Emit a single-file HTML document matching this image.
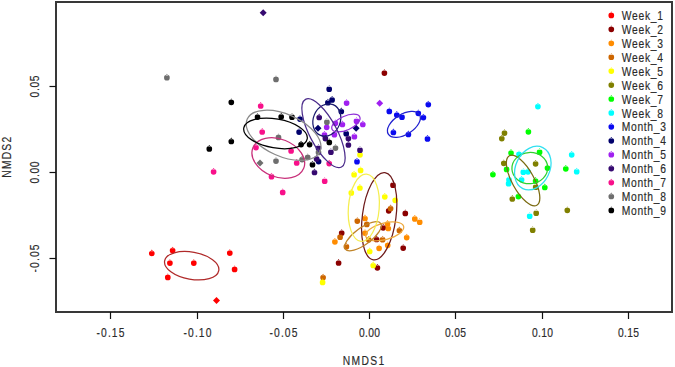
<!DOCTYPE html><html><head><meta charset="utf-8"><style>html,body{margin:0;padding:0;background:#fff;overflow:hidden;}svg{display:block;}text{font-family:"Liberation Sans",sans-serif;fill:#2a2a2a;stroke:#2a2a2a;stroke-width:0.15px;}</style></head><body>
<svg width="675" height="367" viewBox="0 0 675 367">
<rect width="675" height="367" fill="#fff"/>
<defs><path id="d" d="M-2.85,0a2.85,2.85 0 1,0 5.7,0a2.85,2.85 0 1,0 -5.7,0ZM-1.3,-2.3L0,-3.9L1.3,-2.3Z"/><path id="q" d="M0,-3.5L3.5,0L0,3.5L-3.5,0Z"/></defs>
<use href="#d" x="151.8" y="253.5" fill="#ff0000"/>
<use href="#d" x="172.6" y="250.6" fill="#ff0000"/>
<use href="#d" x="169.9" y="263.1" fill="#ff0000"/>
<use href="#d" x="193.8" y="263.1" fill="#ff0000"/>
<use href="#d" x="229.8" y="253.1" fill="#ff0000"/>
<use href="#d" x="234.6" y="269.4" fill="#ff0000"/>
<use href="#d" x="167.8" y="277.4" fill="#ff0000"/>
<use href="#q" x="216.5" y="300.5" fill="#ff0000"/>
<use href="#d" x="384.4" y="73.1" fill="#8b0000"/>
<use href="#d" x="393" y="185.2" fill="#8b0000"/>
<use href="#d" x="388.7" y="210.8" fill="#8b0000"/>
<use href="#d" x="405.3" y="213.4" fill="#8b0000"/>
<use href="#d" x="383.2" y="227.8" fill="#8b0000"/>
<use href="#d" x="341.7" y="233.1" fill="#8b0000"/>
<use href="#d" x="376.6" y="239.5" fill="#8b0000"/>
<use href="#d" x="338.6" y="263" fill="#8b0000"/>
<use href="#d" x="377.4" y="267.8" fill="#8b0000"/>
<use href="#d" x="403.2" y="248.1" fill="#8b0000"/>
<use href="#d" x="365.0" y="218.5" fill="#ff8c00"/>
<use href="#d" x="414.8" y="218.9" fill="#ff8c00"/>
<use href="#d" x="419.7" y="222.2" fill="#ff8c00"/>
<use href="#d" x="387.5" y="224.0" fill="#ff8c00"/>
<use href="#d" x="388.3" y="228.5" fill="#ff8c00"/>
<use href="#d" x="365.0" y="233.1" fill="#ff8c00"/>
<use href="#d" x="334.9" y="241.8" fill="#ff8c00"/>
<use href="#d" x="379.1" y="248.3" fill="#ff8c00"/>
<use href="#d" x="387.7" y="245.3" fill="#ff8c00"/>
<use href="#d" x="406.7" y="237.6" fill="#ff8c00"/>
<use href="#d" x="357.3" y="221.1" fill="#cd6600"/>
<use href="#d" x="366.8" y="224.4" fill="#cd6600"/>
<use href="#d" x="390.6" y="208.5" fill="#cd6600"/>
<use href="#d" x="399.4" y="230.5" fill="#cd6600"/>
<use href="#d" x="340.1" y="237.2" fill="#cd6600"/>
<use href="#d" x="346.4" y="246.7" fill="#cd6600"/>
<use href="#d" x="368.7" y="239.8" fill="#cd6600"/>
<use href="#d" x="382.6" y="239.7" fill="#cd6600"/>
<use href="#d" x="323.1" y="277.6" fill="#cd6600"/>
<use href="#d" x="360.6" y="170.4" fill="#ffff00"/>
<use href="#d" x="354.1" y="174.7" fill="#ffff00"/>
<use href="#d" x="359.9" y="188" fill="#ffff00"/>
<use href="#d" x="351.3" y="192.9" fill="#ffff00"/>
<use href="#d" x="384.8" y="196.8" fill="#ffff00"/>
<use href="#d" x="395.2" y="200.3" fill="#ffff00"/>
<use href="#d" x="369.7" y="251.5" fill="#ffff00"/>
<use href="#d" x="373.2" y="265.5" fill="#ffff00"/>
<use href="#d" x="322.6" y="282.4" fill="#ffff00"/>
<use href="#d" x="360" y="154.8" fill="#ffff00"/>
<use href="#d" x="504.5" y="133.1" fill="#808000"/>
<use href="#d" x="501.8" y="138.6" fill="#808000"/>
<use href="#d" x="503.8" y="163.3" fill="#808000"/>
<use href="#d" x="535.6" y="163.8" fill="#808000"/>
<use href="#d" x="535.7" y="187.2" fill="#808000"/>
<use href="#d" x="512.3" y="199" fill="#808000"/>
<use href="#d" x="536.2" y="213.2" fill="#808000"/>
<use href="#d" x="532.7" y="230.2" fill="#808000"/>
<use href="#d" x="567.3" y="210.3" fill="#808000"/>
<use href="#d" x="528.4" y="131.8" fill="#00ff00"/>
<use href="#d" x="511" y="153" fill="#00ff00"/>
<use href="#d" x="539.6" y="152.2" fill="#00ff00"/>
<use href="#d" x="506.6" y="169.4" fill="#00ff00"/>
<use href="#d" x="492.9" y="174.6" fill="#00ff00"/>
<use href="#d" x="547.5" y="168.1" fill="#00ff00"/>
<use href="#d" x="535.6" y="181" fill="#00ff00"/>
<use href="#d" x="544.8" y="187.5" fill="#00ff00"/>
<use href="#d" x="518.4" y="196.6" fill="#00ff00"/>
<use href="#d" x="565.8" y="168.8" fill="#00ff00"/>
<use href="#d" x="537.9" y="106.6" fill="#00ffff"/>
<use href="#d" x="519" y="154.3" fill="#00ffff"/>
<use href="#d" x="523.3" y="172.2" fill="#00ffff"/>
<use href="#d" x="528" y="171.8" fill="#00ffff"/>
<use href="#d" x="521.6" y="179.8" fill="#00ffff"/>
<use href="#d" x="509" y="179.8" fill="#00ffff"/>
<use href="#d" x="508.6" y="183.7" fill="#00ffff"/>
<use href="#d" x="529.7" y="216.2" fill="#00ffff"/>
<use href="#d" x="571.7" y="154.8" fill="#00ffff"/>
<use href="#d" x="576.7" y="171.7" fill="#00ffff"/>
<use href="#d" x="428.3" y="104.6" fill="#0a0af0"/>
<use href="#d" x="389.3" y="111.4" fill="#0a0af0"/>
<use href="#d" x="396.8" y="115" fill="#0a0af0"/>
<use href="#d" x="402" y="117.2" fill="#0a0af0"/>
<use href="#d" x="418.3" y="113.3" fill="#0a0af0"/>
<use href="#d" x="423.4" y="117.6" fill="#0a0af0"/>
<use href="#d" x="393.4" y="132.5" fill="#0a0af0"/>
<use href="#d" x="408.4" y="134.5" fill="#0a0af0"/>
<use href="#d" x="427.5" y="138.9" fill="#0a0af0"/>
<use href="#d" x="357" y="161.7" fill="#0a0af0"/>
<use href="#d" x="329.2" y="89.2" fill="#00006c"/>
<use href="#d" x="332.1" y="99.9" fill="#00006c"/>
<use href="#d" x="327.9" y="102.7" fill="#00006c"/>
<use href="#d" x="341.3" y="111.5" fill="#00006c"/>
<use href="#d" x="300" y="119.1" fill="#00006c"/>
<use href="#d" x="299.1" y="132.1" fill="#00006c"/>
<use href="#q" x="318" y="128.3" fill="#00006c"/>
<use href="#q" x="356.1" y="128.3" fill="#00006c"/>
<use href="#d" x="346.2" y="133.7" fill="#00006c"/>
<use href="#d" x="318.6" y="161.6" fill="#00006c"/>
<use href="#d" x="346.6" y="103.1" fill="#a020f0"/>
<use href="#q" x="379.7" y="103.3" fill="#a020f0"/>
<use href="#d" x="335.4" y="123.3" fill="#a020f0"/>
<use href="#d" x="342.4" y="124.5" fill="#a020f0"/>
<use href="#d" x="356.5" y="121.2" fill="#a020f0"/>
<use href="#d" x="362.8" y="124.5" fill="#a020f0"/>
<use href="#d" x="326.7" y="127.3" fill="#a020f0"/>
<use href="#d" x="324.5" y="134.9" fill="#a020f0"/>
<use href="#d" x="334.4" y="134.7" fill="#a020f0"/>
<use href="#d" x="354.4" y="136.7" fill="#a020f0"/>
<use href="#q" x="263.2" y="12.7" fill="#360a70"/>
<use href="#d" x="319.2" y="117.5" fill="#360a70"/>
<use href="#d" x="348.4" y="138.6" fill="#360a70"/>
<use href="#d" x="325.4" y="138.6" fill="#360a70"/>
<use href="#d" x="348.4" y="145" fill="#360a70"/>
<use href="#d" x="360" y="150.2" fill="#360a70"/>
<use href="#d" x="318.5" y="148.2" fill="#360a70"/>
<use href="#d" x="330.9" y="152.2" fill="#360a70"/>
<use href="#d" x="316.6" y="158.9" fill="#360a70"/>
<use href="#d" x="314.5" y="172.5" fill="#360a70"/>
<use href="#d" x="260.7" y="106" fill="#f8108a"/>
<use href="#d" x="262.2" y="132" fill="#f8108a"/>
<use href="#d" x="256" y="147.6" fill="#f8108a"/>
<use href="#d" x="213.6" y="171.8" fill="#f8108a"/>
<use href="#d" x="271.5" y="176.7" fill="#f8108a"/>
<use href="#d" x="282.7" y="192.4" fill="#f8108a"/>
<use href="#d" x="291.1" y="151" fill="#f8108a"/>
<use href="#d" x="296.7" y="163" fill="#f8108a"/>
<use href="#d" x="329.2" y="163.6" fill="#f8108a"/>
<use href="#d" x="324.7" y="181.2" fill="#f8108a"/>
<use href="#d" x="166.9" y="77.7" fill="#6e6e6e"/>
<use href="#d" x="276" y="79.4" fill="#6e6e6e"/>
<use href="#d" x="326.9" y="122.2" fill="#6e6e6e"/>
<use href="#d" x="278.5" y="137.4" fill="#6e6e6e"/>
<use href="#q" x="260" y="162.9" fill="#6e6e6e"/>
<use href="#d" x="276" y="161.1" fill="#6e6e6e"/>
<use href="#d" x="318.5" y="152.4" fill="#6e6e6e"/>
<use href="#d" x="307.7" y="157.3" fill="#6e6e6e"/>
<use href="#d" x="302.1" y="159.6" fill="#6e6e6e"/>
<use href="#d" x="335.5" y="148.1" fill="#6e6e6e"/>
<use href="#d" x="231.3" y="102.3" fill="#000000"/>
<use href="#d" x="257.5" y="117.1" fill="#000000"/>
<use href="#d" x="281.2" y="116.8" fill="#000000"/>
<use href="#d" x="292" y="117.2" fill="#000000"/>
<use href="#d" x="231.3" y="141.5" fill="#000000"/>
<use href="#d" x="209.3" y="148.9" fill="#000000"/>
<use href="#d" x="301.1" y="144.6" fill="#000000"/>
<use href="#d" x="309.6" y="144.6" fill="#000000"/>
<use href="#d" x="329.3" y="142.4" fill="#000000"/>
<use href="#d" x="312.5" y="164.7" fill="#000000"/>
<ellipse cx="191.7" cy="265.7" rx="27.5" ry="13.6" transform="rotate(10.2 191.7 265.7)" fill="none" stroke="#b02a2a" stroke-width="1.25"/>
<ellipse cx="379.2" cy="216.2" rx="16.8" ry="44" transform="rotate(7.5 379.2 216.2)" fill="none" stroke="#6e1a1a" stroke-width="1.25"/>
<ellipse cx="384.7" cy="231.3" rx="19.6" ry="8.3" transform="rotate(-14.9 384.7 231.3)" fill="none" stroke="#eeaa40" stroke-width="1.25"/>
<ellipse cx="363.0" cy="236.2" rx="21.9" ry="8.3" transform="rotate(-36 363.0 236.2)" fill="none" stroke="#c08428" stroke-width="1.25"/>
<ellipse cx="363.8" cy="207.8" rx="15.4" ry="33.7" transform="rotate(4.7 363.8 207.8)" fill="none" stroke="#f5ee50" stroke-width="1.25"/>
<ellipse cx="523.1" cy="180.5" rx="28.3" ry="10.9" transform="rotate(61 523.1 180.5)" fill="none" stroke="#7a6a10" stroke-width="1.25"/>
<ellipse cx="529.8" cy="168.1" rx="17.9" ry="15.6" transform="rotate(-3.5 529.8 168.1)" fill="none" stroke="#30d030" stroke-width="1.25"/>
<ellipse cx="532.8" cy="168.1" rx="22.8" ry="17.0" transform="rotate(-64 532.8 168.1)" fill="none" stroke="#30e0f0" stroke-width="1.25"/>
<ellipse cx="403.9" cy="124.4" rx="18.4" ry="10.1" transform="rotate(-32.2 403.9 124.4)" fill="none" stroke="#2020d0" stroke-width="1.25"/>
<ellipse cx="326.8" cy="120" rx="16.6" ry="13.5" transform="rotate(-67.7 326.8 120)" fill="none" stroke="#1a1a6e" stroke-width="1.25"/>
<ellipse cx="345.9" cy="123.1" rx="15.2" ry="7.0" transform="rotate(-24 345.9 123.1)" fill="none" stroke="#9030d8" stroke-width="1.25"/>
<ellipse cx="323.5" cy="133.2" rx="38.3" ry="13.6" transform="rotate(62 323.5 133.2)" fill="none" stroke="#4a2a8a" stroke-width="1.25"/>
<ellipse cx="278.3" cy="158" rx="27.4" ry="18.9" transform="rotate(22 278.3 158)" fill="none" stroke="#c8307a" stroke-width="1.25"/>
<ellipse cx="283.6" cy="135.3" rx="39.8" ry="21" transform="rotate(24 283.6 135.3)" fill="none" stroke="#8a8a8a" stroke-width="1.25"/>
<ellipse cx="275.5" cy="133.4" rx="32.2" ry="14.5" transform="rotate(9.8 275.5 133.4)" fill="none" stroke="#000000" stroke-width="1.25"/>
<rect x="56" y="2" width="616" height="310" fill="none" stroke="#383838" stroke-width="2"/>
<line x1="110.5" y1="312" x2="110.5" y2="319" stroke="#111" stroke-width="1.2"/>
<text x="0" y="0" transform="translate(110.5 336.7) scale(0.86 1)" font-size="12" text-anchor="middle" textLength="32.33" lengthAdjust="spacing">-0.15</text>
<line x1="197.5" y1="312" x2="197.5" y2="319" stroke="#111" stroke-width="1.2"/>
<text x="0" y="0" transform="translate(197.5 336.7) scale(0.86 1)" font-size="12" text-anchor="middle" textLength="32.33" lengthAdjust="spacing">-0.10</text>
<line x1="283.5" y1="312" x2="283.5" y2="319" stroke="#111" stroke-width="1.2"/>
<text x="0" y="0" transform="translate(283.5 336.7) scale(0.86 1)" font-size="12" text-anchor="middle" textLength="32.33" lengthAdjust="spacing">-0.05</text>
<line x1="369.5" y1="312" x2="369.5" y2="319" stroke="#111" stroke-width="1.2"/>
<text x="0" y="0" transform="translate(369.5 336.7) scale(0.86 1)" font-size="12" text-anchor="middle" textLength="24.65" lengthAdjust="spacing">0.00</text>
<line x1="455.5" y1="312" x2="455.5" y2="319" stroke="#111" stroke-width="1.2"/>
<text x="0" y="0" transform="translate(455.5 336.7) scale(0.86 1)" font-size="12" text-anchor="middle" textLength="24.65" lengthAdjust="spacing">0.05</text>
<line x1="542.5" y1="312" x2="542.5" y2="319" stroke="#111" stroke-width="1.2"/>
<text x="0" y="0" transform="translate(542.5 336.7) scale(0.86 1)" font-size="12" text-anchor="middle" textLength="24.65" lengthAdjust="spacing">0.10</text>
<line x1="628.5" y1="312" x2="628.5" y2="319" stroke="#111" stroke-width="1.2"/>
<text x="0" y="0" transform="translate(628.5 336.7) scale(0.86 1)" font-size="12" text-anchor="middle" textLength="24.65" lengthAdjust="spacing">0.15</text>
<line x1="49.5" y1="86.5" x2="56" y2="86.5" stroke="#111" stroke-width="1.2"/>
<text x="0" y="0" transform="translate(39.4 86.5) rotate(-90) scale(0.86 1)" font-size="12" text-anchor="middle" textLength="25.58" lengthAdjust="spacing">0.05</text>
<line x1="49.5" y1="172.5" x2="56" y2="172.5" stroke="#111" stroke-width="1.2"/>
<text x="0" y="0" transform="translate(39.4 172.5) rotate(-90) scale(0.86 1)" font-size="12" text-anchor="middle" textLength="25.58" lengthAdjust="spacing">0.00</text>
<line x1="49.5" y1="258.5" x2="56" y2="258.5" stroke="#111" stroke-width="1.2"/>
<text x="0" y="0" transform="translate(39.4 258.5) rotate(-90) scale(0.86 1)" font-size="12" text-anchor="middle" textLength="32.56" lengthAdjust="spacing">-0.05</text>
<text x="0" y="0" transform="translate(363.5 364.7) scale(0.86 1)" font-size="12" text-anchor="middle" textLength="48.26" lengthAdjust="spacing">NMDS1</text>
<text x="0" y="0" transform="translate(10.9 157.3) rotate(-90) scale(0.86 1)" font-size="12" text-anchor="middle" textLength="47.67" lengthAdjust="spacing">NMDS2</text>
<use href="#d" x="611.3" y="15.4" fill="#ff0000"/>
<text x="0" y="0" transform="translate(621.7 20.0) scale(0.86 1)" font-size="12" text-anchor="start" textLength="48.02" lengthAdjust="spacing">Week_1</text>
<use href="#d" x="611.3" y="29.3" fill="#8b0000"/>
<text x="0" y="0" transform="translate(621.7 33.9) scale(0.86 1)" font-size="12" text-anchor="start" textLength="48.02" lengthAdjust="spacing">Week_2</text>
<use href="#d" x="611.3" y="43.3" fill="#ff8c00"/>
<text x="0" y="0" transform="translate(621.7 47.9) scale(0.86 1)" font-size="12" text-anchor="start" textLength="48.02" lengthAdjust="spacing">Week_3</text>
<use href="#d" x="611.3" y="57.2" fill="#cd6600"/>
<text x="0" y="0" transform="translate(621.7 61.8) scale(0.86 1)" font-size="12" text-anchor="start" textLength="48.02" lengthAdjust="spacing">Week_4</text>
<use href="#d" x="611.3" y="71.1" fill="#ffff00"/>
<text x="0" y="0" transform="translate(621.7 75.7) scale(0.86 1)" font-size="12" text-anchor="start" textLength="48.02" lengthAdjust="spacing">Week_5</text>
<use href="#d" x="611.3" y="85.1" fill="#808000"/>
<text x="0" y="0" transform="translate(621.7 89.7) scale(0.86 1)" font-size="12" text-anchor="start" textLength="48.02" lengthAdjust="spacing">Week_6</text>
<use href="#d" x="611.3" y="99.0" fill="#00ff00"/>
<text x="0" y="0" transform="translate(621.7 103.6) scale(0.86 1)" font-size="12" text-anchor="start" textLength="48.02" lengthAdjust="spacing">Week_7</text>
<use href="#d" x="611.3" y="112.9" fill="#00ffff"/>
<text x="0" y="0" transform="translate(621.7 117.5) scale(0.86 1)" font-size="12" text-anchor="start" textLength="48.02" lengthAdjust="spacing">Week_8</text>
<use href="#d" x="611.3" y="126.8" fill="#0a0af0"/>
<text x="0" y="0" transform="translate(621.7 131.4) scale(0.86 1)" font-size="12" text-anchor="start" textLength="51.40" lengthAdjust="spacing">Month_3</text>
<use href="#d" x="611.3" y="140.8" fill="#00006c"/>
<text x="0" y="0" transform="translate(621.7 145.4) scale(0.86 1)" font-size="12" text-anchor="start" textLength="51.40" lengthAdjust="spacing">Month_4</text>
<use href="#d" x="611.3" y="154.7" fill="#a020f0"/>
<text x="0" y="0" transform="translate(621.7 159.3) scale(0.86 1)" font-size="12" text-anchor="start" textLength="51.40" lengthAdjust="spacing">Month_5</text>
<use href="#d" x="611.3" y="168.6" fill="#360a70"/>
<text x="0" y="0" transform="translate(621.7 173.2) scale(0.86 1)" font-size="12" text-anchor="start" textLength="51.40" lengthAdjust="spacing">Month_6</text>
<use href="#d" x="611.3" y="182.6" fill="#f8108a"/>
<text x="0" y="0" transform="translate(621.7 187.2) scale(0.86 1)" font-size="12" text-anchor="start" textLength="51.40" lengthAdjust="spacing">Month_7</text>
<use href="#d" x="611.3" y="196.5" fill="#6e6e6e"/>
<text x="0" y="0" transform="translate(621.7 201.1) scale(0.86 1)" font-size="12" text-anchor="start" textLength="51.40" lengthAdjust="spacing">Month_8</text>
<use href="#d" x="611.3" y="210.4" fill="#000000"/>
<text x="0" y="0" transform="translate(621.7 215.0) scale(0.86 1)" font-size="12" text-anchor="start" textLength="51.40" lengthAdjust="spacing">Month_9</text>
</svg></body></html>
